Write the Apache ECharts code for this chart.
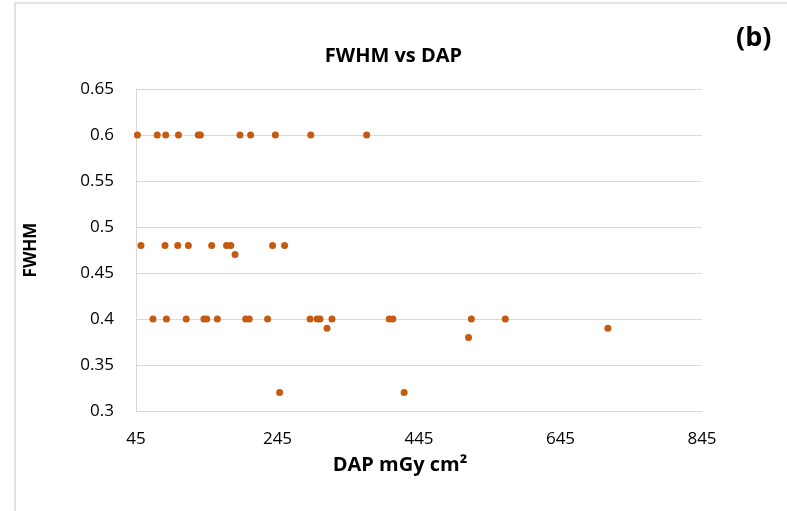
<!DOCTYPE html>
<html><head><meta charset="utf-8">
<script src="https://cdn.jsdelivr.net/npm/echarts@6/dist/echarts.min.js"></script>
<style>html,body{margin:0;padding:0;background:#fff}#c{width:787px;height:511px}</style>
</head><body><div id="c"></div>
<script>
const title = "FWHM vs DAP";
const panelLabel = "(b)";
const xAxisTitle = "DAP mGy cm²";
const yAxisTitle = "FWHM";
const xTicks = [45, 245, 445, 645, 845];
const yTicks = [0.3, 0.35, 0.4, 0.45, 0.5, 0.55, 0.6, 0.65];
const dap = [47, 75, 87, 105, 133, 136, 192, 207, 242, 292, 371,
  52, 86, 104, 119, 152, 173, 179, 238, 255, 185,
  69, 88, 116, 141, 145, 160, 200, 205, 231, 291, 301, 305, 322, 315,
  403, 408, 519, 567, 712, 515,
  248, 424];
const fwhm = [0.6, 0.6, 0.6, 0.6, 0.6, 0.6, 0.6, 0.6, 0.6, 0.6, 0.6,
  0.48, 0.48, 0.48, 0.48, 0.48, 0.48, 0.48, 0.48, 0.48, 0.47,
  0.4, 0.4, 0.4, 0.4, 0.4, 0.4, 0.4, 0.4, 0.4, 0.4, 0.4, 0.4, 0.4, 0.39,
  0.4, 0.4, 0.4, 0.4, 0.39, 0.38,
  0.32, 0.32];
const points = dap.map((d, i) => [d, fwhm[i]]);
const font = "'Open Sans', 'Liberation Sans', sans-serif";
const chart = echarts.init(document.getElementById('c'));
chart.setOption({
  animation: false,
  backgroundColor: '#fff',
  graphic: [
    {type: 'rect', shape: {x: 15, y: 3, width: 800, height: 600}, style: {fill: 'none', stroke: '#d9d9d9', lineWidth: 1.5}, z: -1},
    {type: 'text', left: 736, top: 25, style: {text: panelLabel, font: 'bold 27px ' + font, fill: '#000'}}
  ],
  title: {text: title, left: 'center', top: 41, textStyle: {fontFamily: font, fontSize: 20, fontWeight: 'bold', color: '#000'}},
  grid: {left: 136, right: 85, top: 89, bottom: 100},
  xAxis: {
    type: 'value', min: 45, max: 845, interval: 200,
    name: xAxisTitle, nameLocation: 'middle', nameGap: 44,
    nameTextStyle: {fontFamily: font, fontSize: 20, fontWeight: 'bold', color: '#000', padding: [0, 38, 0, 0]},
    axisLine: {show: true, lineStyle: {color: '#d9d9d9'}},
    axisTick: {show: false},
    splitLine: {show: false},
    axisLabel: {fontFamily: font, fontSize: 17, color: '#000', margin: 20}
  },
  yAxis: {
    type: 'value', min: 0.3, max: 0.65, interval: 0.05,
    name: yAxisTitle, nameLocation: 'middle', nameGap: 96, nameRotate: 90,
    nameTextStyle: {fontFamily: font, fontSize: 17, fontWeight: 'bold', color: '#000'},
    axisLine: {show: true, lineStyle: {color: '#d9d9d9'}},
    axisTick: {show: false},
    splitLine: {show: true, lineStyle: {color: '#d9d9d9'}},
    axisLabel: {fontFamily: font, fontSize: 17, color: '#000', margin: 22,
      formatter: v => yTicks.find(t => Math.abs(t - v) < 1e-9) !== undefined ? String(+v.toFixed(2)) : ''}
  },
  series: [{
    type: 'scatter', data: points, symbolSize: 7,
    itemStyle: {color: '#c55a11', opacity: 1}
  }]
});
</script></body></html>
